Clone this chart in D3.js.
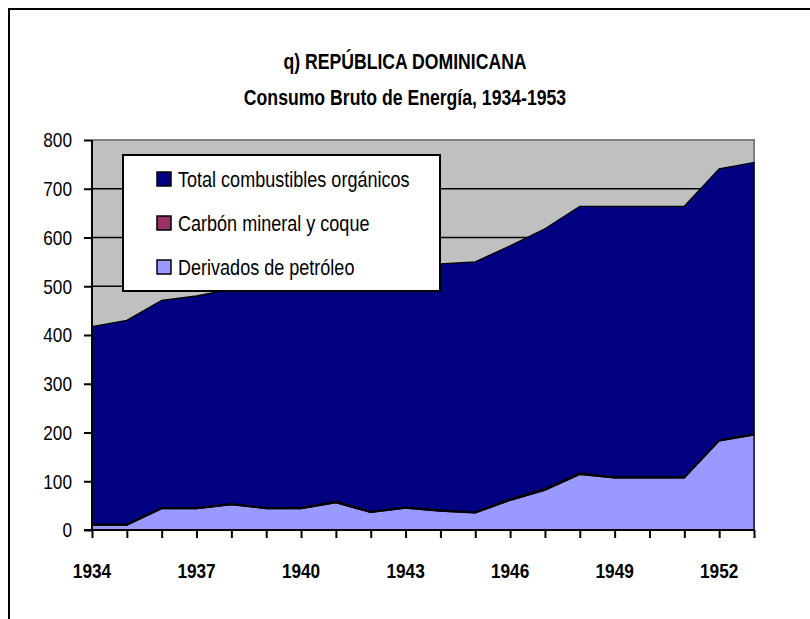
<!DOCTYPE html>
<html><head><meta charset="utf-8">
<script src="https://cdn.jsdelivr.net/npm/d3@7"></script>
<style>body{margin:0;background:#fff;} svg{display:block;}</style>
</head><body>
<svg id="chart" width="810" height="619"></svg>
<script>
// ---- data ----
const years = [1934,1935,1936,1937,1938,1939,1940,1941,1942,1943,1944,1945,1946,1947,1948,1949,1950,1951,1952,1953];
const derivados = [10,10,44,44,52,44,44,56,36,45,39,35,61,82,114,107,107,107,183,195];
const carbon    = [2,2,2,2,2,2,2,3,2,2,2,2,3,3,3,2,2,2,2,2];
const organicos = [405,418,425,434,440,456,464,463,495,497,505,513,519,533,547,555,555,555,556,557];
const yTicks = [0,100,200,300,400,500,600,700,800];
const xLabelYears = [1934,1937,1940,1943,1946,1949,1952];
const seriesNames = ["Total combustibles orgánicos","Carbón mineral y coque","Derivados de petróleo"];
const seriesColors = ["#000080","#993366","#9999FF"];
const titleLines = ["q) REPÚBLICA DOMINICANA","Consumo Bruto de Energía, 1934-1953"];

(function(){
// ---- font detection ----
function hasFont(name){
  const c=document.createElement("canvas").getContext("2d");
  const s="mmmmmmmmmwwwwwlli1934 Consumo";
  c.font="40px monospace"; const a=c.measureText(s).width;
  c.font="40px '"+name+"', monospace"; const b=c.measureText(s).width;
  return Math.abs(a-b)>0.5;
}
const narrow = hasFont("Liberation Sans Narrow");
const FONT = narrow ? "'Liberation Sans Narrow','Arial Narrow',sans-serif" : "'Liberation Sans',Arial,sans-serif";
const SX = narrow ? 1 : 0.82;

const svg = d3.select("#chart");
const W=810,H=619;
const pL=92,pR=754,pT=140,pB=530;

function txt(g,x,y,str,opt){
  const t=g.append("text")
    .attr("transform",`translate(${x},${y}) scale(${SX},1)`)
    .attr("font-family",FONT).attr("font-size",opt.size)
    .attr("font-weight",opt.bold?"bold":"normal")
    .attr("text-anchor",opt.anchor||"start")
    .attr("fill","#000").text(str);
  if(opt.dy) t.attr("dy",opt.dy);
  return t;
}

// outer frame (right/bottom cut off)
svg.append("path").attr("d",`M9,${H} L9,9 L${W},9`).attr("fill","none").attr("stroke","#000").attr("stroke-width",2);

const x = d3.scaleLinear().domain([years[0],years[years.length-1]]).range([pL,pR]);
const y = d3.scaleLinear().domain([0,800]).range([pB,pT]);

// plot background
svg.append("rect").attr("x",pL).attr("y",pT).attr("width",pR-pL).attr("height",pB-pT).attr("fill","#C0C0C0");
// gridlines
svg.append("g").selectAll("line").data(yTicks.filter(d=>d>0&&d<800)).join("line")
  .attr("x1",pL).attr("x2",pR).attr("y1",d=>y(d)).attr("y2",d=>y(d))
  .attr("stroke","#000").attr("stroke-width",1.5);
// plot border (top/right gray)
svg.append("path").attr("d",`M${pL},${y(800)} L${pR},${y(800)} L${pR},${pB}`)
  .attr("fill","none").attr("stroke","#808080").attr("stroke-width",2);

// stacked areas
const table = years.map((yr,i)=>({year:yr,derivados:derivados[i],carbon:carbon[i],organicos:organicos[i]}));
const stack = d3.stack().keys(["derivados","carbon","organicos"]);
const layers = stack(table);
const colorByKey = {derivados:seriesColors[2],carbon:seriesColors[1],organicos:seriesColors[0]};
const area = d3.area().x(d=>x(d.data.year)).y0(d=>y(d[0])).y1(d=>y(d[1]));
svg.append("g").selectAll("path").data(layers).join("path")
  .attr("d",area).attr("fill",d=>colorByKey[d.key])
  .attr("stroke","#000").attr("stroke-width",1.3).attr("stroke-linejoin","miter");

// axes
const yAxis = d3.axisLeft(y).tickValues(yTicks).tickSize(8).tickFormat("");
const gy = svg.append("g").attr("transform",`translate(${pL},0)`).call(yAxis);
gy.selectAll("path,line").attr("stroke","#000").attr("stroke-width",2);
gy.select(".domain").attr("d",`M0,${pB}V${pT}`);
const xAxis = d3.axisBottom(x).tickValues(years).tickSize(8).tickFormat("");
const gx = svg.append("g").attr("transform",`translate(0,${pB})`).call(xAxis);
gx.selectAll("path,line").attr("stroke","#000").attr("stroke-width",2);
gx.select(".domain").attr("d",`M${pL-8},0H${pR}`);

// tick labels
const labels = svg.append("g");
yTicks.forEach(v=>txt(labels,72,y(v),String(v),{size:21,anchor:"end",dy:"0.35em"}));
xLabelYears.forEach(v=>txt(labels,x(v),578,String(v),{size:21,bold:true,anchor:"middle"}));

// title
txt(svg,405,69,titleLines[0],{size:21.5,bold:true,anchor:"middle"});
txt(svg,405,105,titleLines[1],{size:21.5,bold:true,anchor:"middle"});

// legend
const lg = svg.append("g");
lg.append("rect").attr("x",123).attr("y",155).attr("width",317).attr("height",136)
  .attr("fill","#fff").attr("stroke","#000").attr("stroke-width",2);
const rowY = [179,223,267];
seriesNames.forEach((n,i)=>{
  lg.append("rect").attr("x",157).attr("y",rowY[i]-7).attr("width",14).attr("height",14)
    .attr("fill",seriesColors[i]).attr("stroke","#000").attr("stroke-width",1.5);
  txt(lg,178,rowY[i],n,{size:22,dy:"0.35em"});
});
})();
</script>
</body></html>
